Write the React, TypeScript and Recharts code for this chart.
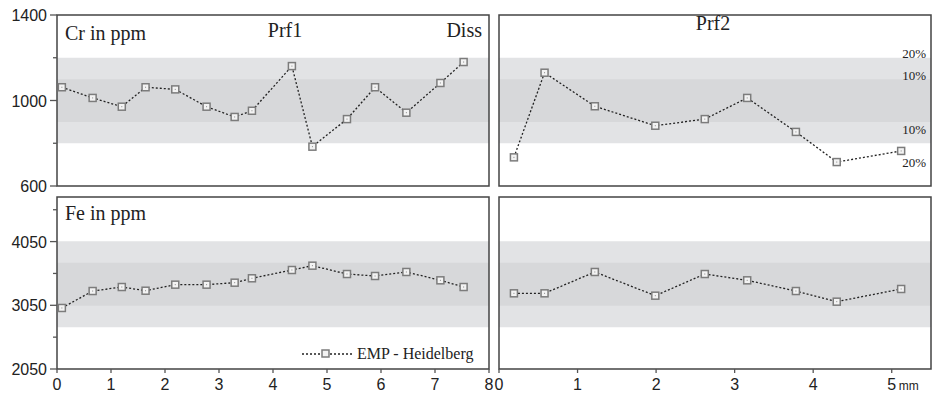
import React from 'react';
import { LineChart, Line, XAxis, YAxis, ReferenceArea } from 'recharts';

// distances along profile (mm)
const prf1X = [0.09, 0.66, 1.2, 1.64, 2.19, 2.77, 3.29, 3.61, 4.35, 4.73, 5.37, 5.89, 6.47, 7.1, 7.53];
const prf1Cr = [1062, 1012, 971, 1062, 1052, 971, 923, 952, 1161, 784, 913, 1062, 943, 1082, 1180];
const prf1Fe = [3008, 3274, 3337, 3279, 3374, 3374, 3405, 3474, 3604, 3672, 3541, 3510, 3573, 3442, 3337];

const prf2X = [0.19, 0.58, 1.22, 1.99, 2.62, 3.16, 3.78, 4.3, 5.12];
const prf2Cr = [734, 1130, 973, 882, 913, 1012, 853, 712, 764];
const prf2Fe = [3238, 3238, 3573, 3201, 3541, 3442, 3274, 3107, 3306];

// +-10% and +-20% bands around the reference value
const crBand10 = [900, 1100];
const crBand20 = [800, 1200];
const feBand10 = [3042, 3718];
const feBand20 = [2704, 4056];

const crDomain = [600, 1400];
const crTicks = [600, 800, 1000, 1200, 1400];
const crLabels = [600, 1000, 1400];
const feDomain = [2050, 4750];
const feTicks = [2050, 2550, 3050, 3550, 4050, 4550];
const feLabels = [2050, 3050, 4050];

const prf1Domain = [0, 8];
const prf1Ticks = [0, 1, 2, 3, 4, 5, 6, 7, 8];
const prf2Domain = [0, 5.5];
const prf2Ticks = [0, 1, 2, 3, 4, 5];

const SANS = 'Liberation Sans, Arial, sans-serif';
const SERIF = 'Liberation Serif, Times New Roman, serif';

const toRows = (xs: number[], ys: number[]) => xs.map((x, i) => ({ x, v: ys[i] }));

const SquareDot = (props: any) => {
  const { cx, cy } = props;
  if (cx == null || cy == null) return null;
  return (
    <g>
      <rect x={cx - 3.5} y={cy - 3.5} width={7} height={7} fill="#f3f3f3" stroke="#7c7c7c" strokeWidth={1.5} />
      <rect x={cx - 0.5} y={cy - 0.5} width={1} height={1} fill="#888" />
    </g>
  );
};

const makeYTick = (labels: number[]) => (props: any) => {
  const { x, y, payload } = props;
  const major = labels.includes(payload.value);
  return (
    <g>
      <line x1={x - (major ? 7 : 4)} x2={x} y1={y} y2={y} stroke="#555" strokeWidth={1.3} />
      {major && (
        <text x={x - 10} y={y + 6} textAnchor="end" fontSize={16} fontFamily={SANS} fill="#222">
          {payload.value}
        </text>
      )}
    </g>
  );
};

const makeXTick = (unit?: string) => (props: any) => {
  const { x, y, payload } = props;
  return (
    <g>
      <line x1={x} x2={x} y1={y} y2={y + 4} stroke="#555" strokeWidth={1.3} />
      <text x={x} y={y + 21} textAnchor="middle" fontSize={16} fontFamily={SANS} fill="#222">
        {payload.value}
      </text>
      {unit && payload.value === 5 && (
        <text x={x + 7} y={y + 21} textAnchor="start" fontSize={12} fontFamily={SANS} fill="#222">
          {unit}
        </text>
      )}
    </g>
  );
};

interface PanelProps {
  rows: { x: number; v: number }[];
  left: number;
  top: number;
  width: number;
  height: number;
  margin: { top: number; right: number; bottom: number; left: number };
  xDomain: number[];
  xTicks?: number[];
  yDomain: number[];
  yTicks?: number[];
  yLabels?: number[];
  band10: number[];
  band20: number[];
  unit?: string;
}

const Panel: React.FC<PanelProps> = ({ rows, left, top, width, height, margin, xDomain, xTicks, yDomain, yTicks, yLabels, band10, band20, unit }) => (
  <div style={{ position: 'absolute', left, top, width, height }}>
    <LineChart width={width} height={height} data={rows} margin={margin}>
      <XAxis
        type="number"
        dataKey="x"
        domain={xDomain}
        ticks={xTicks}
        hide={!xTicks}
        height={27}
        axisLine={false}
        tickLine={false}
        tickSize={0}
        tickMargin={0}
        interval={0}
        tick={makeXTick(unit)}
        allowDataOverflow
      />
      <YAxis
        type="number"
        domain={yDomain}
        ticks={yTicks}
        hide={!yTicks}
        width={57}
        axisLine={false}
        tickLine={false}
        tickSize={0}
        tickMargin={0}
        interval={0}
        tick={makeYTick(yLabels || [])}
        allowDataOverflow
      />
      <ReferenceArea x1={xDomain[0]} x2={xDomain[1]} y1={band20[0]} y2={band20[1]} fill="#e2e3e5" fillOpacity={1} stroke="none" />
      <ReferenceArea x1={xDomain[0]} x2={xDomain[1]} y1={band10[0]} y2={band10[1]} fill="#d7d8da" fillOpacity={1} stroke="none" />
      <ReferenceArea x1={xDomain[0]} x2={xDomain[1]} y1={yDomain[0]} y2={yDomain[1]} fill="none" stroke="#444" strokeWidth={1.5} />
      <Line
        type="linear"
        dataKey="v"
        stroke="#222"
        strokeWidth={1.3}
        strokeDasharray="2 2"
        dot={<SquareDot />}
        activeDot={false}
        isAnimationActive={false}
      />
    </LineChart>
  </div>
);

export default function App() {
  return (
    <div style={{ position: 'absolute', left: 0, top: 0, width: 933, height: 396, background: '#fff' }}>
      <Panel
        rows={toRows(prf1X, prf1Cr)}
        left={0} top={0} width={497} height={200}
        margin={{ top: 15, right: 8, bottom: 14, left: 0 }}
        xDomain={prf1Domain}
        yDomain={crDomain} yTicks={crTicks} yLabels={crLabels}
        band10={crBand10} band20={crBand20}
      />
      <Panel
        rows={toRows(prf2X, prf2Cr)}
        left={480} top={0} width={453} height={200}
        margin={{ top: 15, right: 2, bottom: 14, left: 19 }}
        xDomain={prf2Domain}
        yDomain={crDomain}
        band10={crBand10} band20={crBand20}
      />
      <Panel
        rows={toRows(prf1X, prf1Fe)}
        left={0} top={180} width={497} height={216}
        margin={{ top: 17, right: 8, bottom: 0, left: 0 }}
        xDomain={prf1Domain} xTicks={prf1Ticks}
        yDomain={feDomain} yTicks={feTicks} yLabels={feLabels}
        band10={feBand10} band20={feBand20}
      />
      <Panel
        rows={toRows(prf2X, prf2Fe)}
        left={480} top={180} width={453} height={216}
        margin={{ top: 17, right: 2, bottom: 0, left: 19 }}
        xDomain={prf2Domain} xTicks={prf2Ticks}
        yDomain={feDomain}
        band10={feBand10} band20={feBand20}
        unit="mm"
      />
      <svg width={933} height={396} style={{ position: 'absolute', left: 0, top: 0, pointerEvents: 'none' }}>
        <g fontFamily={SERIF} fill="#222">
          <text x={65} y={40} fontSize={20}>Cr in ppm</text>
          <text x={285} y={37} fontSize={20} textAnchor="middle">Prf1</text>
          <text x={482} y={37} fontSize={20} textAnchor="end">Diss</text>
          <text x={713} y={30} fontSize={20} textAnchor="middle">Prf2</text>
          <text x={65} y={220} fontSize={20}>Fe in ppm</text>
          <text x={926} y={58} fontSize={13} textAnchor="end">20%</text>
          <text x={926} y={80} fontSize={13} textAnchor="end">10%</text>
          <text x={926} y={134} fontSize={13} textAnchor="end">10%</text>
          <text x={926} y={167} fontSize={13} textAnchor="end">20%</text>
          <line x1={302} x2={352} y1={354} y2={354} stroke="#222" strokeWidth={1.3} strokeDasharray="2 2" />
          <rect x={322} y={350} width={7} height={7} fill="#f3f3f3" stroke="#7c7c7c" strokeWidth={1.5} />
          <text x={357} y={359} fontSize={16}>EMP - Heidelberg</text>
        </g>
      </svg>
    </div>
  );
}
